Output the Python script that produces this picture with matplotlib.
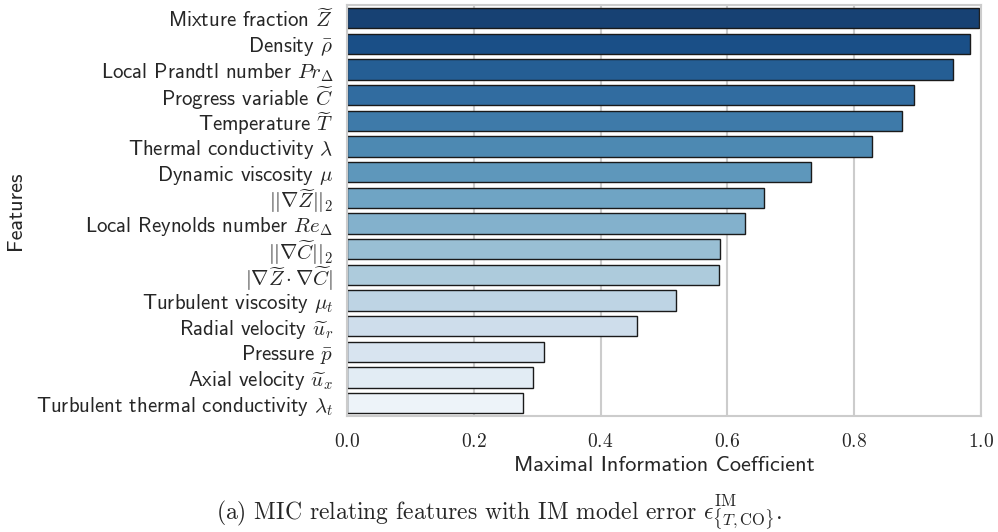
import matplotlib
matplotlib.use("Agg")
import matplotlib.pyplot as plt
import seaborn as sns
import pandas as pd

features = [
    r"Mixture fraction $\widetilde{Z}$",
    r"Density $\bar{\rho}$",
    r"Local Prandtl number $Pr_\Delta$",
    r"Progress variable $\widetilde{C}$",
    r"Temperature $\widetilde{T}$",
    r"Thermal conductivity $\lambda$",
    r"Dynamic viscosity $\mu$",
    r"$||\nabla\widetilde{Z}||_2$",
    r"Local Reynolds number $Re_\Delta$",
    r"$||\nabla\widetilde{C}||_2$",
    r"$|\nabla\widetilde{Z}\cdot\nabla\widetilde{C}|$",
    r"Turbulent viscosity $\mu_t$",
    r"Radial velocity $\widetilde{u}_r$",
    r"Pressure $\bar{p}$",
    r"Axial velocity $\widetilde{u}_x$",
    r"Turbulent thermal conductivity $\lambda_t$",
]
mic = [0.997, 0.983, 0.956, 0.894, 0.876, 0.828, 0.732, 0.657,
       0.628, 0.589, 0.587, 0.519, 0.458, 0.310, 0.294, 0.277]
xticks = [0.0, 0.2, 0.4, 0.6, 0.8, 1.0]

sns.set_theme(style="whitegrid")
plt.rcParams["mathtext.fontset"] = "cm"
plt.rcParams["font.family"] = ["cmss10", "DejaVu Sans"]
plt.rcParams["axes.formatter.use_mathtext"] = True
plt.rcParams["axes.unicode_minus"] = False

df = pd.DataFrame({"feature": features, "mic": mic})

fig = plt.figure(figsize=(9.98, 5.32), dpi=100)
ax = fig.add_axes([0.3477, 0.218, 0.6353, 0.772])

sns.barplot(data=df, x="mic", y="feature", hue="feature", palette="Blues_r",
            legend=False, edgecolor="0.1", linewidth=1.0, ax=ax, width=0.8)

ax.set_xlim(0, 1.0)
ax.set_xticks(xticks)
ax.set_xticklabels([f"${t:.1f}$" for t in xticks], fontsize=14)
ax.tick_params(axis="y", labelsize=15, pad=4)
ax.tick_params(axis="x", pad=6)
ax.set_xlabel("Maximal Information Coefficient", fontsize=16, labelpad=4)
ax.set_ylabel("Features", fontsize=16, labelpad=8)
ax.grid(axis="y", visible=False)
ax.grid(axis="x", color="#cccccc", linewidth=1.5)
for s in ax.spines.values():
    s.set_color("#cccccc")
    s.set_linewidth(1.5)

fig.text(0.5, 0.038,
         r"(a) MIC relating features with IM model error "
         r"$\epsilon^{\rm IM}_{\{T,{\rm CO}\}}$.",
         ha="center", va="center", fontsize=17, family=["cmr10", "DejaVu Sans"])

fig.savefig("out.png", dpi=100)
